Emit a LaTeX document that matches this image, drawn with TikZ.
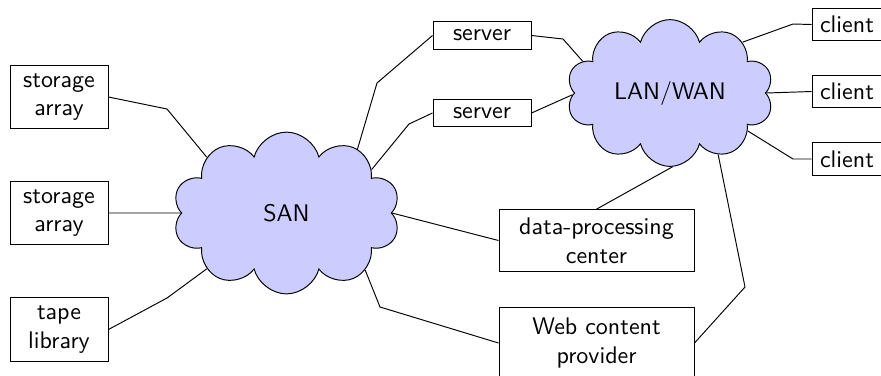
\documentclass[tikz,border=0pt]{standalone}
\usepackage{xcolor}
\usepackage{tikz}
\usetikzlibrary{shapes, shapes.symbols, positioning, calc}
\definecolor{cloudblue}{rgb}{0.8, 0.8, 1.0}

\begin{document}
\begin{tikzpicture}[x=0.01465cm, y=-0.01465cm, every node/.style={font=\sffamily}]
			\tikzstyle{netc}=[cloud, cloud puffs=10, cloud ignores aspect, draw=black, fill=cloudblue]
			\tikzstyle{devr}=[rectangle, draw=black, align=center, fill=white]
			\tikzstyle{devs}=[devr, minimum width=1.436cm]
			\tikzstyle{devw}=[devr, minimum width=2.857cm]
			%%
			\clip (0,0) rectangle (881,375);
			\useasboundingbox (0,0) rectangle (881,375);
			%%
			\node (san) at (286.5,213) [netc, minimum width=3.33cm, minimum height=2.37cm] {SAN};
			\node (lan) at (670,93) [netc, minimum width=3.03cm, minimum height=2.15cm] {LAN/WAN};
			
			\node (sa1) at (59,97) [devs] {storage\\array};
			\node (sa2) at (59,213) [devs] {storage\\array};
			\node (tape) at (59,329.5) [devs] {tape\\library};
			
			\node (srv1) at (482,35.5) [devs] {server};
			\node (srv2) at (482,113) [devs] {server};
			
			\node (data) at (596.5,240.5) [devw] {data-processing\\center};
			\node (web) at (596.5,343) [devw, minimum height=1.05cm] {Web content\\provider};
			
			\node (cl1) at (847,24.5) [devr] {client};
			\node (cl2) at (847,91.5) [devr] {client};
			\node (cl3) at (847,159) [devr] {client};
			
			%% SAN side
			\draw (sa1.east) -- (167,109) -- (san.145);
			\draw (sa2.east) -- (san.180);
			\draw (tape.east) -- (167,298) -- (san.215);
			\draw (san.42) -- (377,83) -- (srv1.west);
			\draw (san.27) -- (409,124) -- (srv2.west);
			\draw (san.0) -- (data.west);
			\draw (san.324) -- (380,307) -- (web.west);
			
			%% LAN/WAN side
			\draw (srv1.east) -- (563,39) -- (lan.160);
			\draw (srv2.east) -- (lan.181);
			\draw (lan.35) -- (793,24) -- (cl1.west);
			\draw (lan.0) -- (cl2.west);
			\draw (lan.334) -- (793,159) -- (cl3.west);
			\draw (lan.272) -- (data.north);
			\draw (lan.308) -- (745,287) -- (web.east);
\end{tikzpicture}
\end{document}
